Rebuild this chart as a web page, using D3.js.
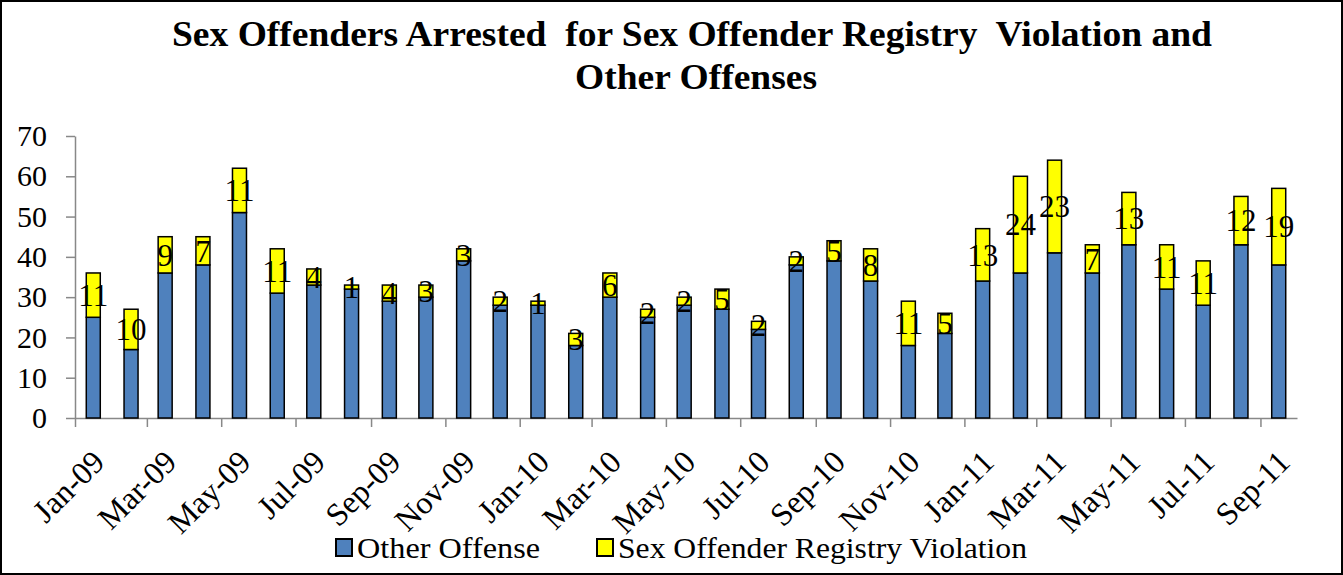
<!DOCTYPE html>
<html>
<head>
<meta charset="utf-8">
<script src="https://cdn.jsdelivr.net/npm/d3@7"></script>
<style>
  body { margin: 0; background: #fff; }
  svg { display: block; font-family: "Liberation Serif", "Times New Roman", serif; }
</style>
</head>
<body>
<div id="chart"></div>
<script>
var width = 1343;
var height = 575;

// months Jan-09 .. Sep-11
var months = ['2009-01','2009-02','2009-03','2009-04','2009-05','2009-06','2009-07','2009-08','2009-09','2009-10','2009-11','2009-12',
  '2010-01','2010-02','2010-03','2010-04','2010-05','2010-06','2010-07','2010-08','2010-09','2010-10','2010-11','2010-12',
  '2011-01','2011-02','2011-03','2011-04','2011-05','2011-06','2011-07','2011-08','2011-09'];
var otherOffense = [25,17,36,38,51,31,33,32,29,30,39,28, 28,18,30,25,28,27,22,38,39,34,18,21, 34,36,41,36,43,32,28,43,38];
var registryViolation = [11,10,9,7,11,11,4,1,4,3,3,2, 1,3,6,2,2,5,2,2,5,8,11,5, 13,24,23,7,13,11,11,12,19];
var yTicks = [0,10,20,30,40,50,60,70];
var seriesNames = ['Other Offense', 'Sex Offender Registry Violation'];
var seriesColors = ['#4f81bd', '#ffff00'];

var parse = d3.timeParse('%Y-%m');
var fmt = d3.timeFormat('%b-%y');

// plot area
var plotLeft = 75, plotRight = 1297, plotTop = 136, plotBottom = 418;

var svg = d3.select('#chart').append('svg')
    .attr('width', width)
    .attr('height', height);

// outer frame
svg.append('rect')
    .attr('x', 1).attr('y', 1)
    .attr('width', width - 2).attr('height', height - 2)
    .attr('fill', '#fff').attr('stroke', '#000').attr('stroke-width', 2);

// title
svg.append('text')
    .attr('x', 692).attr('y', 46)
    .attr('text-anchor', 'middle')
    .attr('font-size', 35)
    .attr('font-weight', 'bold')
    .attr('textLength', 1040)
    .attr('lengthAdjust', 'spacingAndGlyphs')
    .style('white-space', 'pre')
    .text('Sex Offenders Arrested  for Sex Offender Registry  Violation and');
svg.append('text')
    .attr('x', 696).attr('y', 89)
    .attr('text-anchor', 'middle')
    .attr('font-size', 35)
    .attr('font-weight', 'bold')
    .attr('textLength', 242)
    .attr('lengthAdjust', 'spacingAndGlyphs')
    .text('Other Offenses');

var x = d3.scaleTime()
    .domain([new Date(2009, 0, 1), new Date(2011, 9, 1)])
    .range([plotLeft, plotRight]);

var y = d3.scaleLinear()
    .domain([0, 70])
    .range([plotBottom, plotTop]);

var data = months.map(function(m, i) {
  var d = parse(m);
  return { date: d, mid: new Date(d.getFullYear(), d.getMonth(), 16), other: otherOffense[i], sorv: registryViolation[i] };
});

// y axis
var yAxis = svg.append('g')
    .attr('transform', 'translate(' + plotLeft + ',0)')
    .call(d3.axisLeft(y).tickValues(yTicks).tickSize(9).tickSizeOuter(0).tickPadding(19));
yAxis.selectAll('text').attr('font-size', 30).attr('fill', '#000').attr('font-family', '"Liberation Serif", serif');
yAxis.selectAll('line, path').attr('stroke', '#888').attr('stroke-width', 1.5);

// x axis, tick every 2 months
var xTicks = d3.timeMonth.every(2).range(new Date(2009, 0, 1), new Date(2011, 9, 1));
var xAxis = svg.append('g')
    .attr('transform', 'translate(0,' + plotBottom + ')')
    .call(d3.axisBottom(x).tickValues(xTicks).tickFormat(fmt).tickSize(9).tickSizeOuter(0));
xAxis.selectAll('line, path').attr('stroke', '#888').attr('stroke-width', 1.5);
xAxis.selectAll('text')
    .attr('font-size', 32)
    .attr('fill', '#000')
    .attr('font-family', '"Liberation Serif", serif')
    .attr('text-anchor', 'end')
    .attr('dy', '0.35em')
    .attr('y', 0)
    .attr('transform', 'translate(23,38) rotate(-45)');

var barW = 14;

// other offense
svg.append('g').selectAll('rect')
    .data(data).enter().append('rect')
    .attr('x', function(d) { return x(d.mid) - barW / 2; })
    .attr('y', function(d) { return y(d.other); })
    .attr('width', barW)
    .attr('height', function(d) { return y(0) - y(d.other); })
    .attr('fill', seriesColors[0])
    .attr('stroke', '#000').attr('stroke-width', 1.5);

// registry violation
svg.append('g').selectAll('rect')
    .data(data).enter().append('rect')
    .attr('x', function(d) { return x(d.mid) - barW / 2; })
    .attr('y', function(d) { return y(d.other + d.sorv); })
    .attr('width', barW)
    .attr('height', function(d) { return y(d.other) - y(d.other + d.sorv); })
    .attr('fill', seriesColors[1])
    .attr('stroke', '#000').attr('stroke-width', 1.5);

// value labels on the yellow segments
svg.append('g').selectAll('text')
    .data(data).enter().append('text')
    .attr('x', function(d) { return x(d.mid); })
    .attr('y', function(d) { return y(d.other + d.sorv / 2); })
    .attr('dy', '0.35em')
    .attr('text-anchor', 'middle')
    .attr('font-size', 31)
    .attr('fill', '#000')
    .text(function(d) { return d.sorv; });

// legend
var legend = svg.append('g');
var legendX = [336, 597];
var legendW = [183, 409];
seriesNames.forEach(function(name, i) {
  legend.append('rect')
      .attr('x', legendX[i]).attr('y', 539)
      .attr('width', 16).attr('height', 17)
      .attr('fill', seriesColors[i])
      .attr('stroke', '#000').attr('stroke-width', 2);
  legend.append('text')
      .attr('x', legendX[i] + 21).attr('y', 558)
      .attr('font-size', 29)
      .attr('textLength', legendW[i])
      .attr('lengthAdjust', 'spacingAndGlyphs')
      .text(name);
});
</script>
</body>
</html>
